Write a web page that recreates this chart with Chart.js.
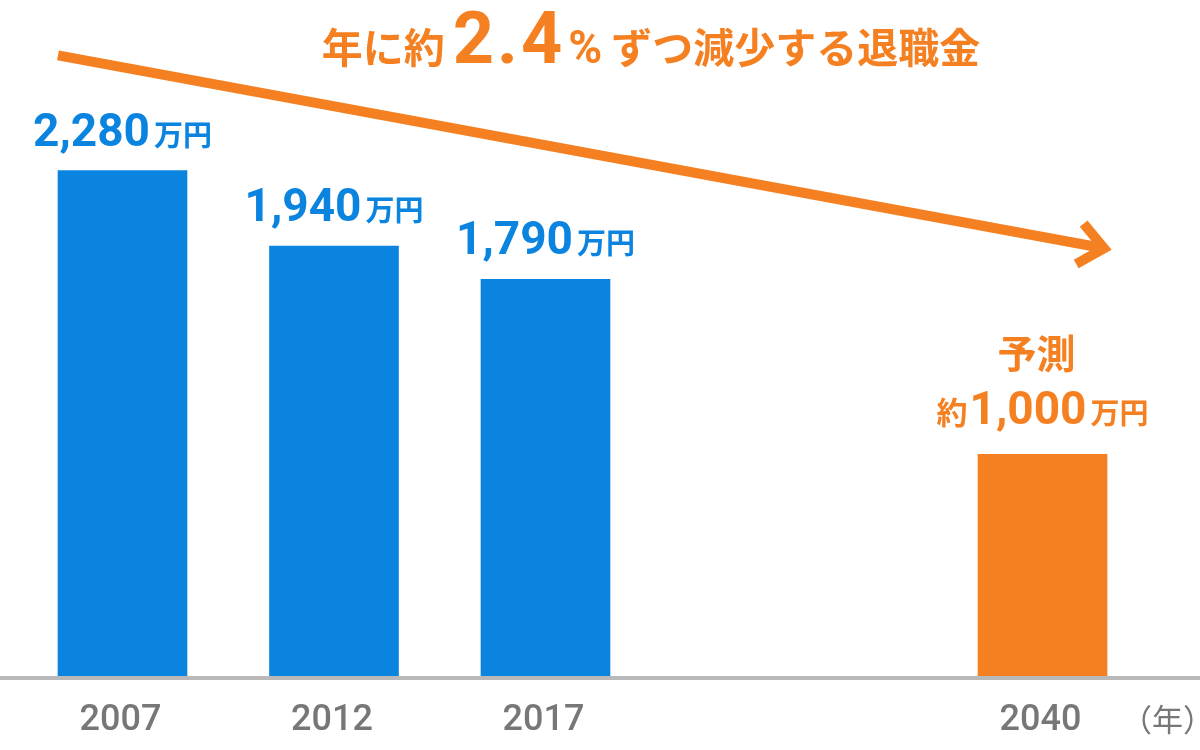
<!DOCTYPE html>
<html lang="ja">
<head>
<meta charset="utf-8">
<title>退職金の推移</title>
<script src="https://cdn.jsdelivr.net/npm/chart.js@4.4.1/dist/chart.umd.min.js"></script>
<style>
  html, body { margin: 0; padding: 0; background: #fff; }
  #wrap { width: 1200px; height: 750px; position: relative; }
</style>
</head>
<body>
<div id="wrap"><canvas id="chart"></canvas></div>
<script>
// data
var years = ['2007', '2012', '2017', '2040'];
var slots = [0, 1, 2, 4.35];          // position along the axis (gap before 2040)
var amounts = [2280, 1940, 1790, 1000]; // 万円
var forecast = [false, false, false, true];
var unitText = '万円';
var forecastText = '予測';
var approxText = '約';
var yearUnitText = '（年）';
var titleParts = ['年に約', '2.4', '%', 'ずつ減少する退職金'];
var trendArrow = [2800, 1930]; // arrow height at start / end, in 万円

var BLUE = '#0B84E0';
var ORANGE = '#F58021';
var GRAY = '#777777';
var JP = '"Noto Sans CJK JP", "Noto Sans", sans-serif';
var NUM = 'Roboto, "Noto Sans", sans-serif';

function fmt(n) {
  return n.toLocaleString('en-US');
}

// draw several text pieces on one baseline, centred on cx
function drawParts(ctx, parts, cx, y) {
  var total = 0;
  parts.forEach(function (p) {
    ctx.font = p.font;
    p.w = ctx.measureText(p.t).width + (p.spacing || 0) * (p.t.length - 1);
    total += p.w + (p.gap || 0);
  });
  var x = cx - total / 2;
  ctx.textAlign = 'left';
  ctx.textBaseline = 'alphabetic';
  parts.forEach(function (p) {
    ctx.font = p.font;
    ctx.fillStyle = p.color;
    if (p.spacing) {
      var xx = x;
      for (var i = 0; i < p.t.length; i++) {
        ctx.fillText(p.t[i], xx, y);
        xx += ctx.measureText(p.t[i]).width + p.spacing;
      }
    } else {
      ctx.fillText(p.t, x, y);
    }
    x += p.w + (p.gap || 0);
  });
}

var decor = {
  id: 'decor',
  afterDatasetsDraw: function (chart) {
    var ctx = chart.ctx;
    var ys = chart.scales.y;
    var bars = chart.getDatasetMeta(0).data;
    var base = ys.getPixelForValue(0);
    ctx.save();

    // baseline
    ctx.fillStyle = '#B9B9B9';
    ctx.fillRect(0, base, chart.width, 4);

    // year labels
    ctx.fillStyle = GRAY;
    ctx.font = '500 36px ' + NUM;
    ctx.textAlign = 'center';
    ctx.textBaseline = 'alphabetic';
    years.forEach(function (y, i) {
      ctx.fillText(y, bars[i].x - 2, base + 54);
    });
    ctx.font = '31px ' + JP;
    ctx.textAlign = 'right';
    ctx.fillText(yearUnitText, chart.width + 14, base + 55);

    // value labels
    bars.forEach(function (bar, i) {
      var col = forecast[i] ? ORANGE : BLUE;
      var parts = [];
      if (forecast[i]) parts.push({ t: approxText, font: 'bold 31px ' + JP, color: col, gap: 2 });
      parts.push({ t: fmt(amounts[i]), font: 'bold 46px ' + NUM, color: col, gap: 4 });
      parts.push({ t: unitText, font: 'bold 29px ' + JP, color: col });
      var yb = bar.y - (forecast[i] ? 30 : 25);
      drawParts(ctx, parts, bar.x, yb);
      if (forecast[i]) {
        ctx.font = 'bold 39px ' + JP;
        ctx.fillStyle = col;
        ctx.textAlign = 'center';
        ctx.fillText(forecastText, bar.x - 6, yb - 56);
      }
    });

    // trend arrow
    var first = bars[0], last = bars[bars.length - 1];
    var x0 = first.x - first.width / 2, y0 = ys.getPixelForValue(trendArrow[0]);
    var x1 = last.x + last.width / 2 - 3, y1 = ys.getPixelForValue(trendArrow[1]);
    var ang = Math.atan2(y1 - y0, x1 - x0);
    ctx.strokeStyle = ORANGE;
    ctx.lineWidth = 10;
    ctx.lineCap = 'butt';
    ctx.lineJoin = 'miter';
    ctx.beginPath();
    ctx.moveTo(x0, y0);
    ctx.lineTo(x1, y1);
    ctx.stroke();
    var head = 32, spread = 40 * Math.PI / 180;
    ctx.beginPath();
    ctx.moveTo(x1 - head * Math.cos(ang - spread), y1 - head * Math.sin(ang - spread));
    ctx.lineTo(x1, y1);
    ctx.lineTo(x1 - head * Math.cos(ang + spread), y1 - head * Math.sin(ang + spread));
    ctx.stroke();

    // title
    drawParts(ctx, [
      { t: titleParts[0], font: 'bold 41px ' + JP, color: ORANGE, gap: 8 },
      { t: titleParts[1], font: 'bold 72px ' + NUM, color: ORANGE, spacing: 3, gap: 6 },
      { t: titleParts[2], font: 'bold 46px ' + NUM, color: ORANGE, gap: 9 },
      { t: titleParts[3], font: 'bold 41px ' + JP, color: ORANGE }
    ], 651, 63);

    ctx.restore();
  }
};

var ctx = document.getElementById('chart').getContext('2d');
var chart = new Chart(ctx, {
  type: 'bar',
  data: {
    datasets: [{
      data: slots.map(function (s, i) { return { x: s, y: amounts[i] }; }),
      backgroundColor: forecast.map(function (f) { return f ? ORANGE : BLUE; }),
      barThickness: 129,
      borderWidth: 0
    }]
  },
  options: {
    responsive: true,
    maintainAspectRatio: false,
    animation: false,
    layout: { padding: { left: 0, right: 0, top: 0, bottom: 74 } },
    plugins: {
      legend: { display: false },
      tooltip: { enabled: false }
    },
    scales: {
      x: { type: 'linear', offset: false, min: -0.5792, max: 5.0946, display: false },
      y: { min: 0, max: 3050, display: false }
    }
  },
  plugins: [decor]
});
</script>
</body>
</html>
